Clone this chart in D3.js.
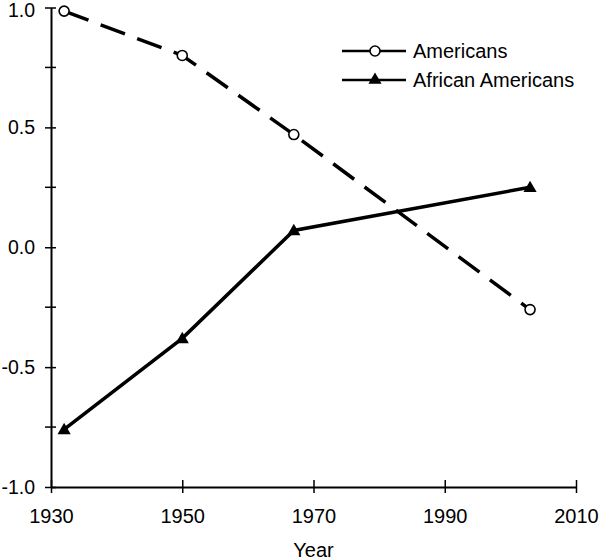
<!DOCTYPE html>
<html>
<head>
<meta charset="utf-8">
<script src="https://cdn.jsdelivr.net/npm/d3@7"></script>
<style>
  body { margin: 0; background: #fff; }
  text { font-family: "Liberation Sans", Arial, sans-serif; fill: #000; }
</style>
</head>
<body>
<div id="chart"></div>
<script>
// data
const years = [1932, 1950, 1967, 2003];
const americans = [0.985, 0.80, 0.47, -0.26];
const africanAmericans = [-0.76, -0.38, 0.07, 0.25];
const xTicks = [1930, 1950, 1970, 1990, 2010];
const yTicks = [-1.0, -0.5, 0.0, 0.5, 1.0];
const yMinor = [-0.75, -0.25, 0.25, 0.75];

const width = 600, height = 560;
const margin = {left: 51, right: 24, top: 7.5, bottom: 73};

const svg = d3.select("#chart").append("svg")
    .attr("width", width)
    .attr("height", height);

var x = d3.scaleLinear().domain([1930, 2010]).range([margin.left, width - margin.right]);
var y = d3.scaleLinear().domain([-1, 1]).range([height - margin.bottom, margin.top]);

// axes
var xAxis = svg.append("g")
    .attr("transform", "translate(0," + y(-1) + ")")
    .call(d3.axisBottom(x).tickValues(xTicks).tickFormat(d3.format("d")).tickSizeInner(6).tickSizeOuter(0).tickPadding(16));
xAxis.selectAll(".tick line").attr("y1", -7);

var yAxis = svg.append("g")
    .attr("transform", "translate(" + x(1930) + ",0)")
    .call(d3.axisLeft(y).tickValues(yTicks).tickFormat(d => d.toFixed(1)).tickSizeInner(6).tickSizeOuter(0).tickPadding(10));
yAxis.selectAll(".tick line").attr("x1", -6).attr("x2", 5);
// top label sits a bit lower so it is not cut by the edge
yAxis.selectAll(".tick text").filter(d => d == 1).attr("y", 3);

yAxis.selectAll(".minor")
    .data(yMinor)
    .enter().append("line")
    .attr("class", "minor")
    .attr("x1", -6).attr("x2", 5)
    .attr("y1", d => y(d)).attr("y2", d => y(d))
    .attr("stroke", "#000").attr("stroke-width", 1.5);

svg.selectAll(".domain").attr("stroke-width", 2);
svg.selectAll(".tick line").attr("stroke-width", 1.5);
xAxis.selectAll(".tick text").style("font-size", "20px");
yAxis.selectAll(".tick text").style("font-size", "19.5px");

svg.append("text")
    .attr("x", (x(1930) + x(2010)) / 2)
    .attr("y", 557)
    .attr("text-anchor", "middle")
    .style("font-size", "20px")
    .text("Year");

var line = d3.line()
    .x(function(d, i) { return x(years[i]); })
    .y(function(d) { return y(d); });

svg.append("path")
    .datum(americans)
    .attr("d", line)
    .attr("fill", "none")
    .attr("stroke", "#000")
    .attr("stroke-width", 3.5)
    .attr("stroke-dasharray", "26,13");

svg.append("path")
    .datum(africanAmericans)
    .attr("d", line)
    .attr("fill", "none")
    .attr("stroke", "#000")
    .attr("stroke-width", 3.5);

var tri = d3.symbol().type(d3.symbolTriangle).size(75);

svg.selectAll(".circle")
    .data(americans)
    .enter().append("circle")
    .attr("cx", function(d, i) { return x(years[i]); })
    .attr("cy", function(d) { return y(d); })
    .attr("r", 5)
    .style("fill", "#fff")
    .style("stroke", "#000")
    .style("stroke-width", 1.6);

svg.selectAll(".tri")
    .data(africanAmericans)
    .enter().append("path")
    .attr("d", tri)
    .attr("transform", function(d, i) { return "translate(" + x(years[i]) + "," + (y(d) + 1) + ")"; })
    .style("fill", "#000");

// legend
var legend = svg.append("g").attr("transform", "translate(342,51)");
legend.append("line").attr("x1", 0).attr("x2", 64).attr("y1", 0).attr("y2", 0)
    .attr("stroke", "#000").attr("stroke-width", 2.5);
legend.append("circle").attr("cx", 33).attr("cy", 0).attr("r", 5)
    .style("fill", "#fff").style("stroke", "#000").style("stroke-width", 1.6);
legend.append("text").attr("x", 71).attr("y", 7).style("font-size", "20px").text("Americans");

legend.append("line").attr("x1", 0).attr("x2", 64).attr("y1", 29).attr("y2", 29)
    .attr("stroke", "#000").attr("stroke-width", 2.5);
legend.append("path").attr("d", tri).attr("transform", "translate(33,29)").style("fill", "#000");
legend.append("text").attr("x", 71).attr("y", 36).style("font-size", "20px").text("African Americans");
</script>
</body>
</html>
